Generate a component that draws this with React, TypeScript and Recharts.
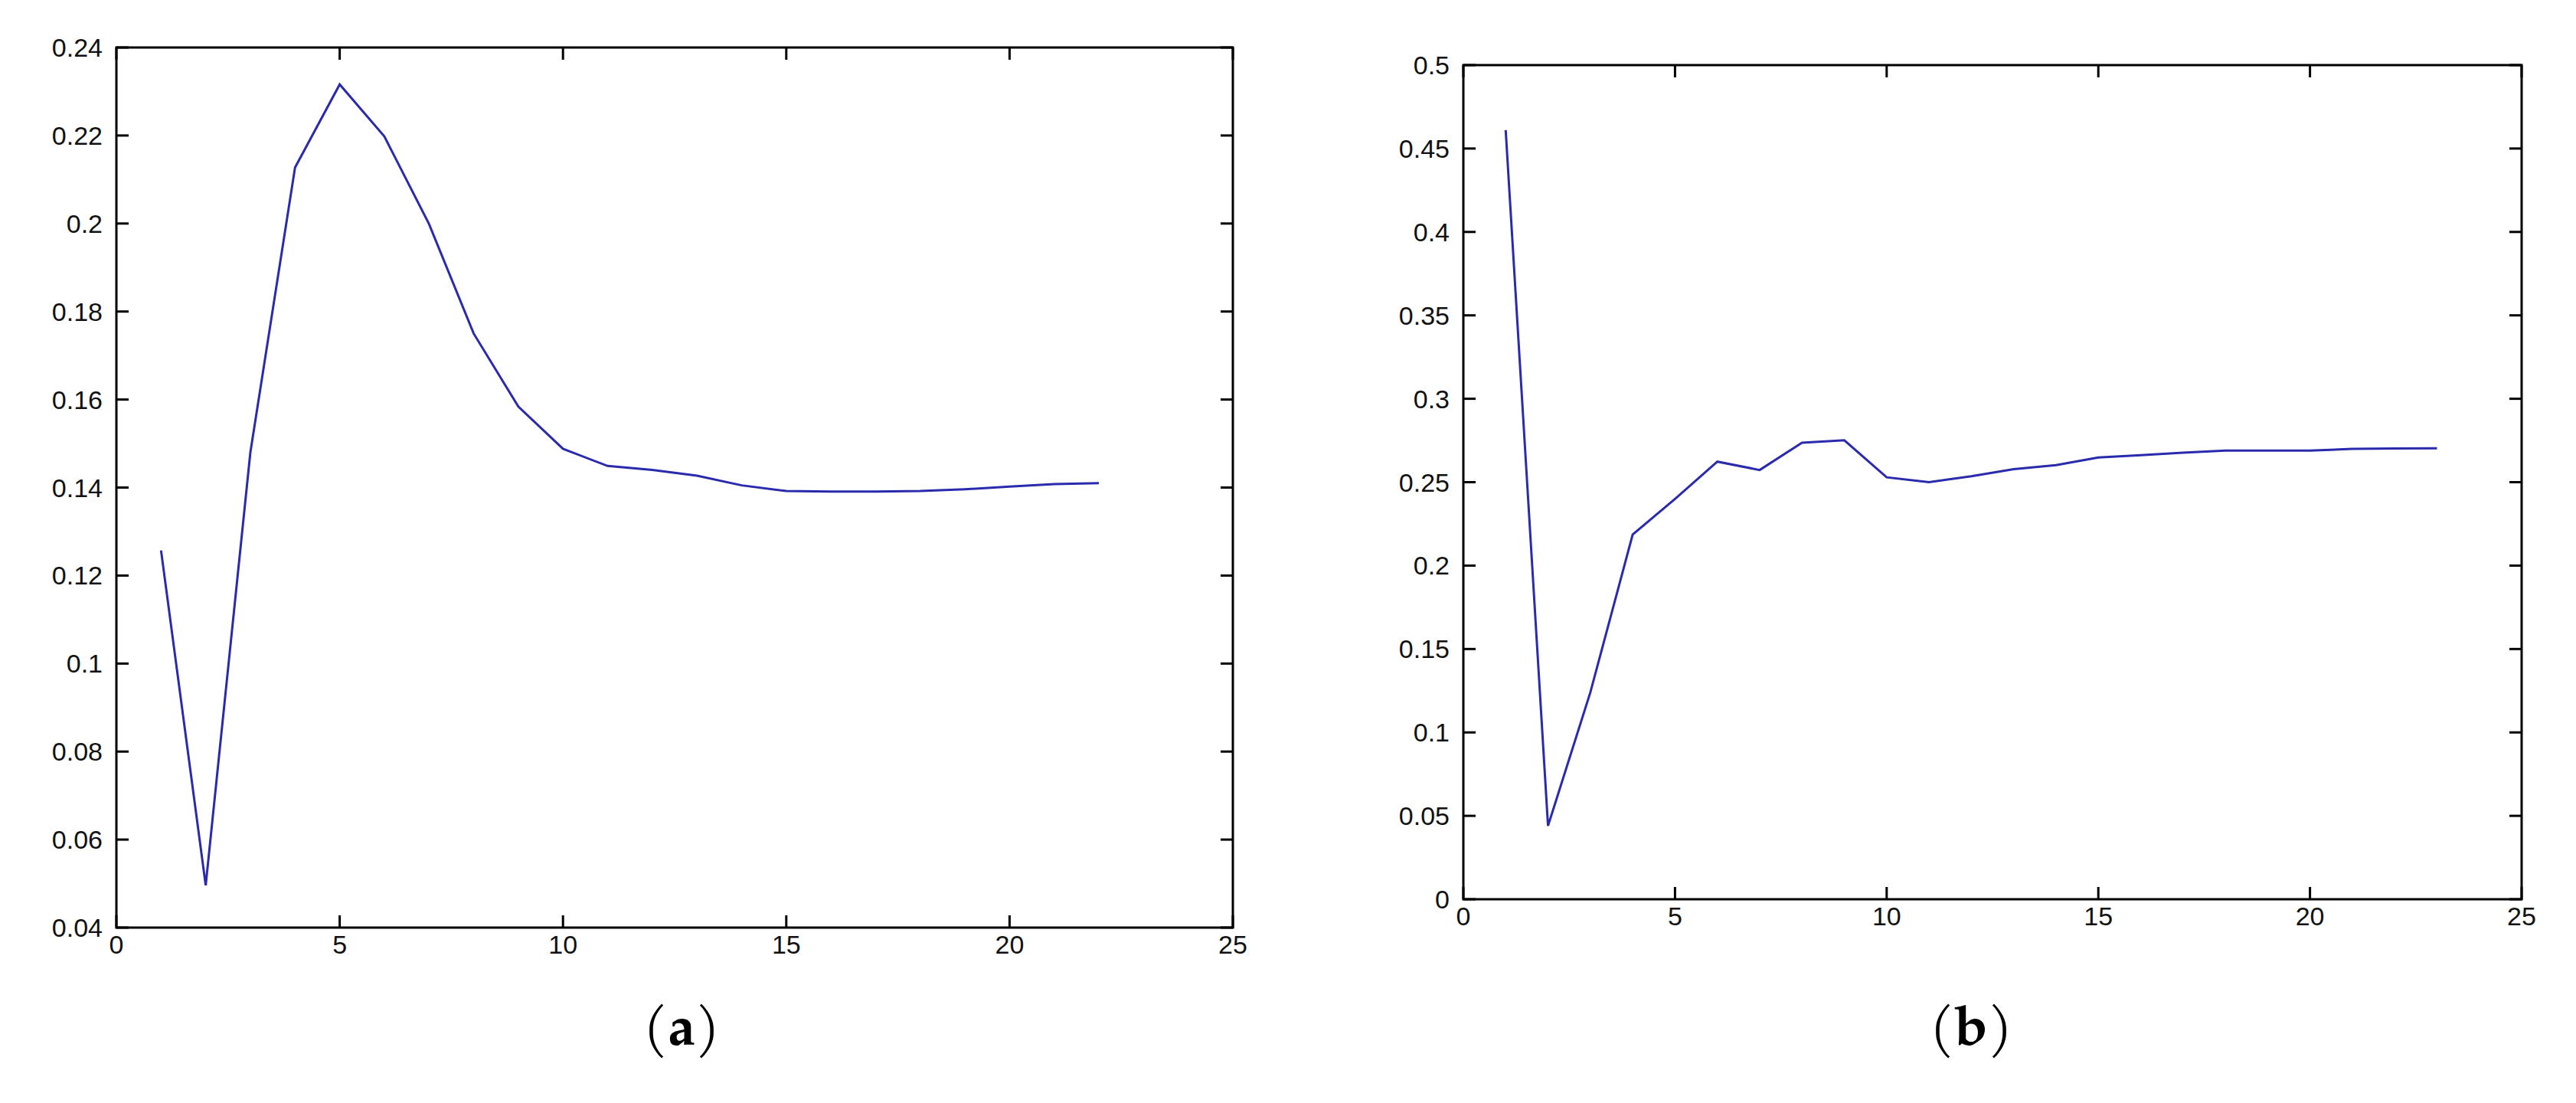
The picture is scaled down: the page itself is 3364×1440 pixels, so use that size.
import React from 'react';
import { LineChart, Line, XAxis, YAxis, ReferenceArea } from 'recharts';

// panel (a)
const stepsA = [1, 2, 3, 4, 5, 6, 7, 8, 9, 10, 11, 12, 13, 14, 15, 16, 17, 18, 19, 20, 21, 22];
const valuesA = [
  0.1257, 0.0496, 0.148, 0.2127, 0.2316, 0.2198, 0.1999, 0.175, 0.1584, 0.1488, 0.1449,
  0.144, 0.1427, 0.1405, 0.1392, 0.1391, 0.1391, 0.1392, 0.1396, 0.1402, 0.1408, 0.141,
];
const yTicksA = [0.04, 0.06, 0.08, 0.1, 0.12, 0.14, 0.16, 0.18, 0.2, 0.22, 0.24];

// panel (b)
const stepsB = [1, 2, 3, 4, 5, 6, 7, 8, 9, 10, 11, 12, 13, 14, 15, 16, 17, 18, 19, 20, 21, 22, 23];
const valuesB = [
  0.461, 0.044, 0.124, 0.2186, 0.24, 0.2623, 0.2573, 0.2737, 0.2751, 0.2529, 0.25, 0.2536,
  0.2578, 0.2602, 0.2648, 0.2662, 0.2677, 0.2689, 0.2689, 0.2689, 0.27, 0.2702, 0.2703,
];
const yTicksB = [0, 0.05, 0.1, 0.15, 0.2, 0.25, 0.3, 0.35, 0.4, 0.45, 0.5];

const xTicks = [0, 5, 10, 15, 20, 25];

const LINE_COLOR = '#2a2aad';
const TICK_FONT = "'Liberation Sans', Arial, sans-serif";
const TICK_LEN = 16;
const Y_AXIS_W = 152;
const CHART_H = 1300;

const fmt = (v: number) => String(Number(v.toFixed(2)));

interface PanelProps {
  left: number;
  plotTop: number;
  plotBottom: number;
  plotWidth: number;
  xs: number[];
  ys: number[];
  yTicks: number[];
}

const Panel: React.FC<PanelProps> = ({ left, plotTop, plotBottom, plotWidth, xs, ys, yTicks }) => {
  const data = xs.map((x, i) => ({ x, y: ys[i] }));
  const rightPad = 90;
  const width = Y_AXIS_W + plotWidth + rightPad;
  const plotLeft = Y_AXIS_W;
  const plotRight = Y_AXIS_W + plotWidth;
  const yMin = yTicks[0];
  const yMax = yTicks[yTicks.length - 1];

  const renderYTick = (props: any) => {
    const { y, payload } = props;
    return (
      <g>
        <line x1={plotLeft} x2={plotLeft + TICK_LEN} y1={y} y2={y} stroke="#000" strokeWidth={3} />
        <line x1={plotRight} x2={plotRight - TICK_LEN} y1={y} y2={y} stroke="#000" strokeWidth={3} />
        <text
          x={plotLeft - 18}
          y={y}
          textAnchor="end"
          dominantBaseline="central"
          fontFamily={TICK_FONT}
          fontSize={34}
          fill="#111"
        >
          {fmt(payload.value)}
        </text>
      </g>
    );
  };

  const renderXTick = (props: any) => {
    const { x, payload } = props;
    return (
      <g>
        <line x1={x} x2={x} y1={plotBottom} y2={plotBottom - TICK_LEN} stroke="#000" strokeWidth={3} />
        <line x1={x} x2={x} y1={plotTop} y2={plotTop + TICK_LEN} stroke="#000" strokeWidth={3} />
        <text
          x={x}
          y={plotBottom + 22}
          textAnchor="middle"
          dominantBaseline="central"
          fontFamily={TICK_FONT}
          fontSize={34}
          fill="#111"
        >
          {fmt(payload.value)}
        </text>
      </g>
    );
  };

  return (
    <div style={{ position: 'absolute', left, top: 0 }}>
      <LineChart
        width={width}
        height={CHART_H}
        data={data}
        margin={{ top: plotTop, right: rightPad, bottom: 0, left: 0 }}
      >
        <XAxis
          dataKey="x"
          type="number"
          domain={[0, 25]}
          ticks={xTicks}
          interval={0}
          axisLine={false}
          tickLine={false}
          tickSize={0}
          height={CHART_H - plotBottom}
          tick={renderXTick}
        />
        <YAxis
          type="number"
          domain={[yMin, yMax]}
          ticks={yTicks}
          interval={0}
          axisLine={false}
          tickLine={false}
          tickSize={0}
          width={Y_AXIS_W}
          tick={renderYTick}
        />
        <ReferenceArea
          x1={0}
          x2={25}
          y1={yMin}
          y2={yMax}
          fill="none"
          stroke="#000"
          strokeWidth={3}
          ifOverflow="visible"
        />
        <Line
          type="linear"
          dataKey="y"
          stroke={LINE_COLOR}
          strokeWidth={3}
          dot={false}
          isAnimationActive={false}
        />
      </LineChart>
    </div>
  );
};

const Caption: React.FC<{ centerX: number; letter: string }> = ({ centerX, letter }) => (
  <div
    style={{
      position: 'absolute',
      left: centerX - 100,
      top: 1300,
      width: 200,
      textAlign: 'center',
      fontFamily: "'TeX Gyre Pagella', 'Palatino Linotype', 'Liberation Serif', serif",
      fontSize: 72,
      lineHeight: '96px',
      color: '#000',
    }}
  >
    (<b>{letter}</b>)
  </div>
);

const App: React.FC = () => {
  return (
    <div
      style={{
        position: 'absolute',
        left: 0,
        top: 0,
        width: 3364,
        height: 1440,
        background: '#fff',
        overflow: 'hidden',
      }}
    >
      <Panel left={0} plotTop={62} plotBottom={1211} plotWidth={1458} xs={stepsA} ys={valuesA} yTicks={yTicksA} />
      <Panel left={1759} plotTop={85} plotBottom={1174} plotWidth={1382} xs={stepsB} ys={valuesB} yTicks={yTicksB} />
      <Caption centerX={890} letter="a" />
      <Caption centerX={2574} letter="b" />
    </div>
  );
};

export default App;
